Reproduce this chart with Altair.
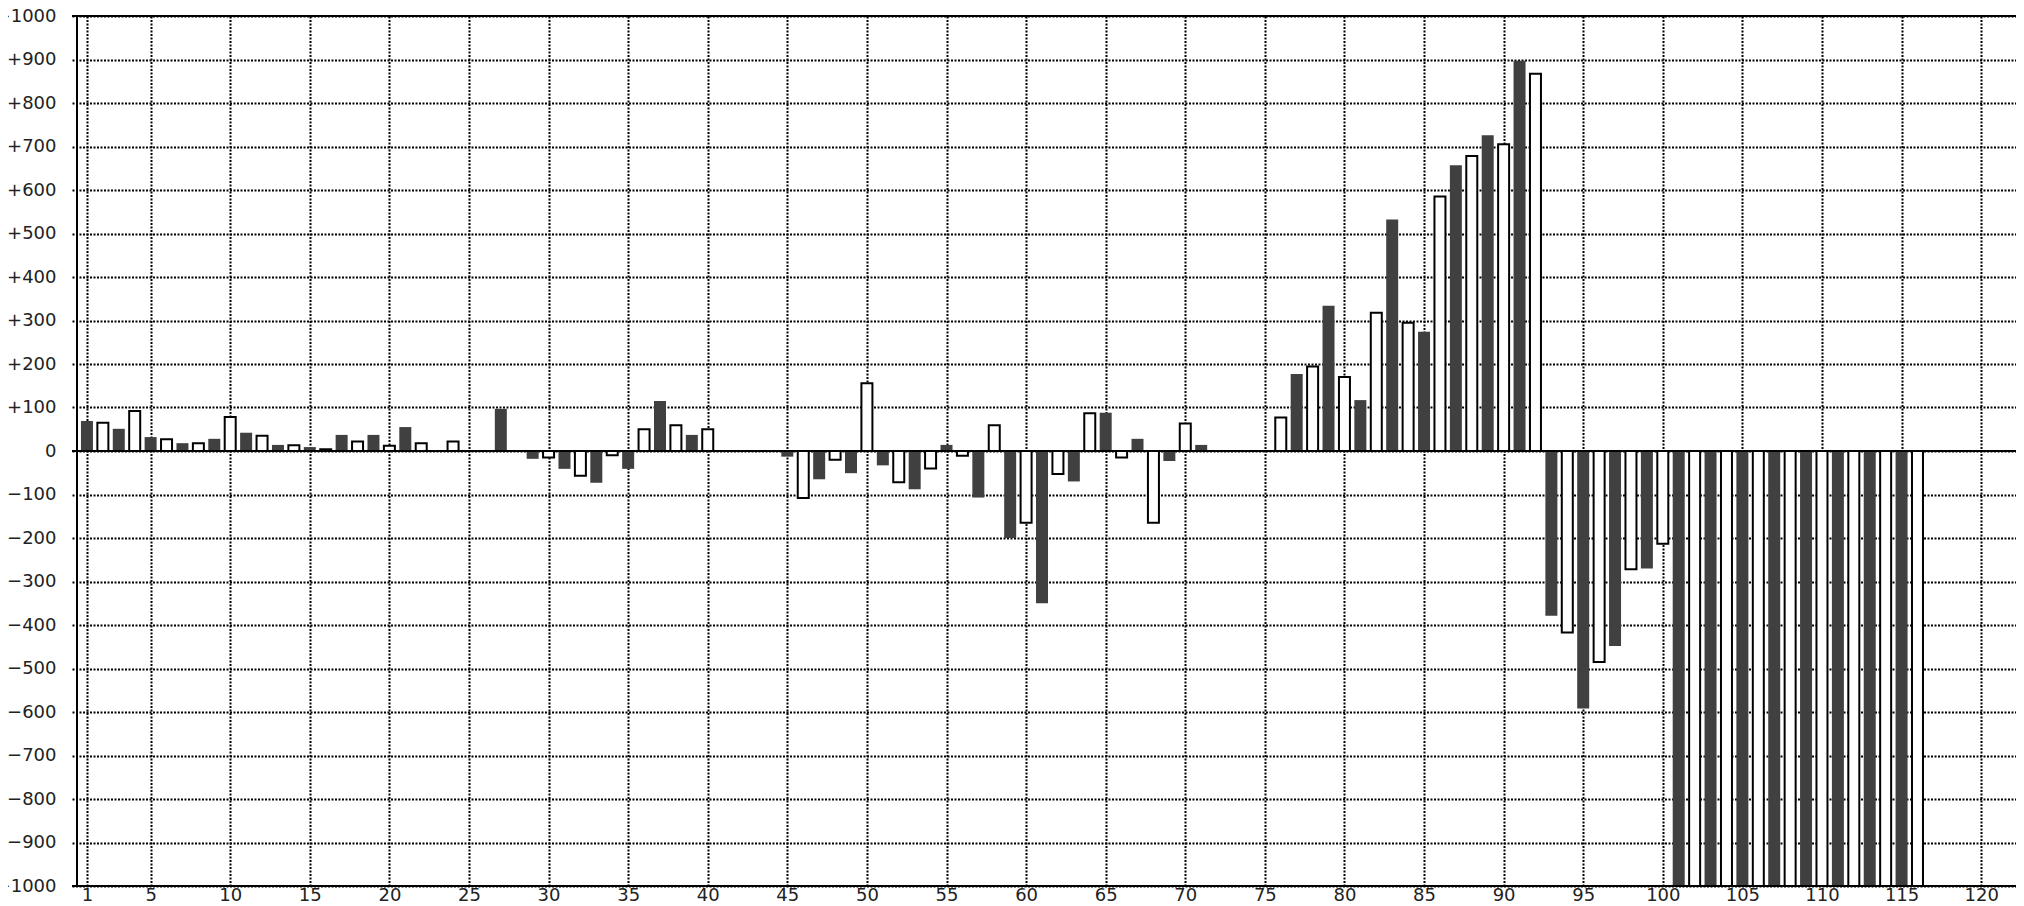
import altair as alt
import pandas as pd

# bar index 1..116 (odd = dark series, even = white series)
indices = list(range(1, 117))
values = [
    69, 65, 51, 92, 32, 27, 18, 18, 28, 78,
    42, 35, 14, 13, 9, 4, 37, 22, 37, 12,
    55, 18, 0, 22, 0, 0, 97, 0, -18, -15,
    -41, -57, -73, -10, -41, 50, 115, 59, 37, 50,
    0, 0, 0, 0, -13, -108, -65, -20, -51, 156,
    -33, -72, -88, -40, 14, -11, -107, 59, -200, -165,
    -350, -53, -70, 87, 88, -15, 28, -165, -23, 63,
    14, 0, 0, 0, 0, 77, 177, 194, 334, 170,
    117, 318, 532, 295, 274, 585, 657, 678, 726, 705,
    897, 867, -379, -417, -592, -485, -448, -272, -270, -213,
    -1200, -1200, -1200, -1200, -1200, -1200, -1200, -1200, -1200, -1200,
    -1200, -1200, -1200, -1200, -1200, -1200,
]
x_ticks = [1] + list(range(5, 121, 5))
y_ticks = list(range(-1000, 1001, 100))

df = pd.DataFrame({"n": indices, "v": values})
df["series"] = ["dark" if n % 2 else "white" for n in indices]
df = df[df["v"] != 0]

W = 1944
XDOM = [0.375, 0.375 + W / 16]
YDOM = [-1000, 1000]
FONT = "DejaVu Sans"
FS = 18

xscale = alt.Scale(domain=XDOM, nice=False, zero=False)
yscale = alt.Scale(domain=YDOM, nice=False, zero=False)

GRID = dict(grid=True, gridColor="black", gridDash=[2, 1.5], gridWidth=2)

x_axis = alt.Axis(
    values=x_ticks, domain=False, ticks=False, tickSize=0, labelPadding=0,
    labelFontSize=FS, labelFont=FONT, labelColor="#222", labelFlush=False,
    labelOverlap=False, title=None, **GRID,
)
y_axis = alt.Axis(
    values=y_ticks, domain=False, ticks=False, tickSize=0, labelPadding=16,
    labelFontSize=FS, labelFont=FONT, labelColor="#222", labelFlush=False,
    labelOverlap=False, title=None, **GRID,
    labelExpr="datum.value > 0 ? '+' + datum.value : (datum.value < 0 ? '\u2212' + (-datum.value) : '0')",
)

base = alt.Chart(df)

dark = base.transform_filter(alt.datum.series == "dark").mark_bar(
    orient="vertical", size=12, color="#404040", clip=True
).encode(
    x=alt.X("n:Q", scale=xscale, axis=x_axis),
    y=alt.Y("v:Q", scale=yscale, axis=y_axis),
    y2=alt.datum(0),
)

white = base.transform_filter(alt.datum.series == "white").mark_bar(
    orient="vertical", size=11, fill="white", stroke="black", strokeWidth=2, clip=True
).encode(
    x=alt.X("n:Q", scale=xscale, axis=x_axis),
    y=alt.Y("v:Q", scale=yscale, axis=y_axis),
    y2=alt.datum(0),
)

hlines = alt.Chart(pd.DataFrame({"v": [1000, 0, -1000]})).mark_rule(
    color="black", strokeWidth=2
).encode(y=alt.Y("v:Q", scale=yscale, axis=y_axis))

vline = alt.Chart(pd.DataFrame({"n": [XDOM[0]]})).mark_rule(
    color="black", strokeWidth=2
).encode(x=alt.X("n:Q", scale=xscale, axis=x_axis))

chart = alt.layer(dark, white, hlines, vline).properties(
    width=W,
    height=870,
    autosize=alt.AutoSizeParams(type="none"),
    padding={"left": 64, "top": 8, "right": 0, "bottom": 20},
    background="white",
).configure_view(strokeWidth=0)

chart.save("out.html", embed_options={"renderer": "svg", "actions": False})
